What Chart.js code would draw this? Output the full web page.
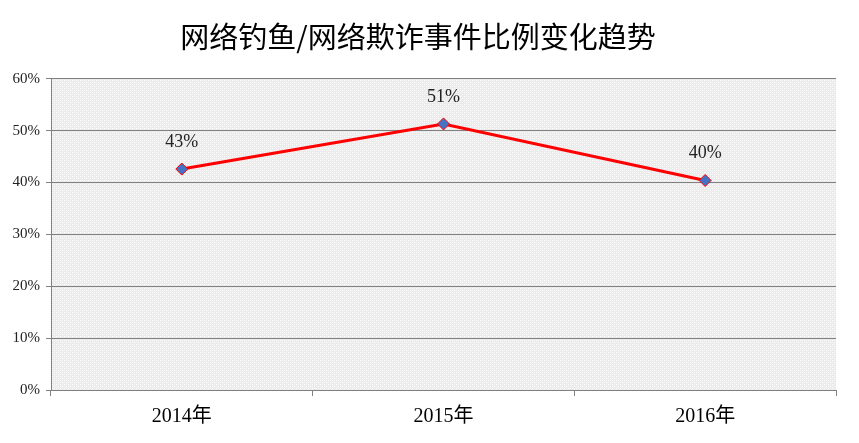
<!DOCTYPE html>
<html>
<head>
<meta charset="utf-8">
<script src="https://cdn.jsdelivr.net/npm/chart.js@4"></script>
<style>
  html, body { margin: 0; padding: 0; background: #fff; }
  #wrap { width: 859px; height: 443px; }
</style>
</head>
<body>
<div id="wrap"><canvas id="chart1"></canvas></div>
<script>
// données
const years = ["2014年", "2015年", "2016年"];
const ratios = [42.6, 51.3, 40.4];
const ratioLabels = ["43%", "51%", "40%"];
const yTicks = [0, 10, 20, 30, 40, 50, 60];

const serif = "'Liberation Serif', 'Noto Sans CJK SC', serif";

// petit motif pointillé pour le fond de la zone de tracé
function makePattern(ctx) {
  const p = document.createElement("canvas");
  p.width = 4; p.height = 4;
  const pc = p.getContext("2d");
  pc.fillStyle = "#ebebeb";
  pc.fillRect(0, 0, 4, 4);
  pc.fillStyle = "#ffffff";
  pc.fillRect(0, 0, 1, 1);
  pc.fillRect(2, 2, 1, 1);
  pc.fillStyle = "#f4f4f4";
  pc.fillRect(2, 0, 1, 1);
  pc.fillRect(0, 2, 1, 1);
  return ctx.createPattern(p, "repeat");
}

const plotBackground = {
  id: "plotBackground",
  beforeDraw(chart) {
    const { ctx, chartArea } = chart;
    ctx.save();
    ctx.fillStyle = makePattern(ctx);
    ctx.fillRect(chartArea.left, chartArea.top, chartArea.right - chartArea.left, chartArea.bottom - chartArea.top);
    ctx.restore();
  }
};

// étiquettes au-dessus des points
const pointLabels = {
  id: "pointLabels",
  afterDatasetsDraw(chart) {
    const { ctx } = chart;
    const meta = chart.getDatasetMeta(0);
    ctx.save();
    ctx.font = "18px " + serif;
    ctx.fillStyle = "#222";
    ctx.textAlign = "center";
    ctx.textBaseline = "middle";
    meta.data.forEach((pt, i) => {
      ctx.fillText(ratioLabels[i], pt.x, pt.y - 27);
    });
    ctx.restore();
  }
};

const ctx = document.getElementById("chart1").getContext("2d");
const myChart = new Chart(ctx, {
  type: "line",
  data: {
    labels: years,
    datasets: [{
      data: ratios,
      borderColor: "#ff0000",
      borderWidth: 3,
      pointStyle: "rectRot",
      pointRadius: 6,
      pointBackgroundColor: "#4472c4",
      pointBorderColor: "#ff0000",
      pointBorderWidth: 1,
      tension: 0
    }]
  },
  options: {
    responsive: true,
    maintainAspectRatio: false,
    animation: false,
    devicePixelRatio: 1,
    layout: { padding: { left: 0, right: 23, top: 0, bottom: 0 } },
    plugins: {
      legend: { display: false },
      tooltip: { enabled: false },
      title: {
        display: true,
        text: "网络钓鱼/网络欺诈事件比例变化趋势",
        color: "#000",
        font: { family: "'Noto Sans CJK SC', sans-serif", size: 29, weight: "normal" },
        padding: { top: 20, bottom: 24 }
      }
    },
    scales: {
      x: {
        offset: true,
        afterFit(scale) { scale.height = 53; },
        grid: {
          offset: true,
          drawOnChartArea: false,
          drawTicks: true,
          tickLength: 6,
          color: "#808080"
        },
        border: { color: "#808080", width: 1 },
        ticks: {
          color: "#000",
          padding: 9,
          font: { family: serif, size: 20 }
        }
      },
      y: {
        min: 0,
        max: 60,
        afterFit(scale) { scale.width = 51; },
        afterBuildTicks(scale) { scale.ticks = yTicks.map(v => ({ value: v })); },
        grid: {
          color: "#808080",
          tickLength: 5,
          drawTicks: true
        },
        border: { color: "#808080", width: 1 },
        ticks: {
          color: "#222",
          padding: 6,
          font: { family: serif, size: 15 },
          callback: v => v + "%"
        }
      }
    }
  },
  plugins: [plotBackground, pointLabels]
});
</script>
</body>
</html>
